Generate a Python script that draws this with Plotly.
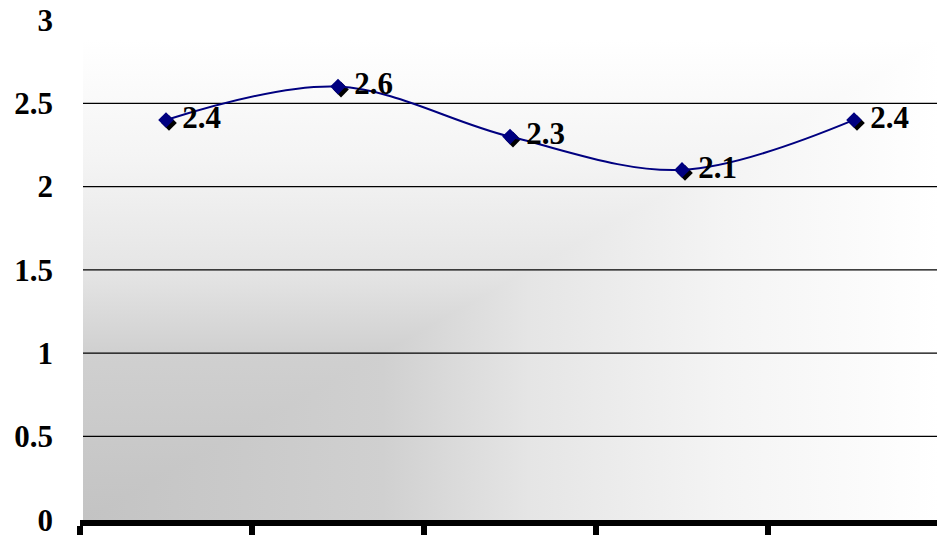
import base64
import plotly.graph_objects as go

# ---- data ----
categories = ["1", "2", "3", "4", "5"]
values = [2.4, 2.6, 2.3, 2.1, 2.4]
value_labels = ["2.4", "2.6", "2.3", "2.1", "2.4"]
y_ticks = [0, 0.5, 1, 1.5, 2, 2.5, 3]
y_tick_labels = ["0", "0.5", "1", "1.5", "2", "2.5", "3"]
grid_values = [0.5, 1, 1.5, 2, 2.5]

# ---- layout constants ----
W, H = 937, 535
ML, MR, MT, MB = 80, 0, 20, 15
plot_w = W - ML - MR
plot_h = H - MT - MB
cat_px = 172.0
x_range = [-0.5, -0.5 + plot_w / cat_px]
y_range = [-0.002, 3]
positions = list(range(len(categories)))
boundaries = [p - 0.5 for p in positions] + [positions[-1] + 0.5]

# shadow offset (pixels -> data units)
sdx = 3 / cat_px
sdy = 3 * (y_range[1] - y_range[0]) / plot_h

# ---- background gradient ("from corner" style) ----
gw, gh = 854, 480
stops = '''<stop offset="0" stop-color="#c3c3c3"/><stop offset="0.35" stop-color="#d0d0d0"/>
<stop offset="0.52" stop-color="#e5e5e5"/><stop offset="0.75" stop-color="#f4f4f4"/>
<stop offset="1" stop-color="#ffffff"/>'''
svg = f'''<svg xmlns="http://www.w3.org/2000/svg" width="{gw}" height="{gh}" viewBox="0 0 {gw} {gh}" preserveAspectRatio="none">
<defs>
<linearGradient id="v" gradientUnits="userSpaceOnUse" x1="0" y1="{gh}" x2="0" y2="0">{stops}</linearGradient>
<linearGradient id="h" gradientUnits="userSpaceOnUse" x1="0" y1="0" x2="{gw}" y2="0">{stops}</linearGradient>
</defs>
<rect x="0" y="0" width="{gw}" height="{gh}" fill="url(#h)"/>
<polygon points="0,0 {gw},0 0,{gh}" fill="url(#v)"/>
</svg>'''
src = "data:image/svg+xml;base64," + base64.b64encode(svg.encode()).decode()

font_family = "Liberation Serif, Times New Roman, serif"
label_font = dict(family=font_family, size=31, color="black", weight="bold")

fig = go.Figure()

# marker shadow
fig.add_trace(go.Scatter(
    x=[p + sdx for p in positions], y=[v - sdy for v in values],
    mode="markers",
    marker=dict(symbol="diamond", size=12, color="black", line=dict(width=0)),
    hoverinfo="skip", showlegend=False,
))
# line + markers + labels
fig.add_trace(go.Scatter(
    x=positions, y=values,
    mode="lines+markers+text",
    line=dict(color="#000080", width=2, shape="spline", smoothing=1),
    marker=dict(symbol="diamond", size=12, color="#000080", line=dict(width=0)),
    text=[" " + t for t in value_labels], textposition="middle right",
    textfont=label_font,
    showlegend=False,
))

shapes = [
    dict(type="line", xref="paper", yref="y", x0=0.0035, x1=1, y0=g, y1=g,
         line=dict(color="black", width=1.3), layer="below")
    for g in grid_values
]

fig.update_layout(
    width=W, height=H,
    margin=dict(l=ML, r=MR, t=MT, b=MB, pad=0),
    paper_bgcolor="white", plot_bgcolor="rgba(0,0,0,0)",
    shapes=shapes,
    images=[dict(source=src, xref="paper", yref="paper", x=0.0035, y=(gh / plot_h),
                 sizex=1, sizey=gh / plot_h, xanchor="left", yanchor="top",
                 sizing="stretch", layer="below")],
    xaxis=dict(range=x_range, tickvals=boundaries, showticklabels=False,
               showgrid=False, zeroline=False, showline=True, linecolor="black",
               linewidth=6, ticks="outside", ticklen=9, tickwidth=6, tickcolor="black"),
    yaxis=dict(range=y_range, tickvals=y_ticks, ticktext=y_tick_labels,
               showgrid=False, zeroline=False, showline=False, ticks="",
               ticklabelstandoff=26, ticklabeloverflow="allow", automargin=False,
               tickfont=label_font),
)

fig.write_html("out.html")
